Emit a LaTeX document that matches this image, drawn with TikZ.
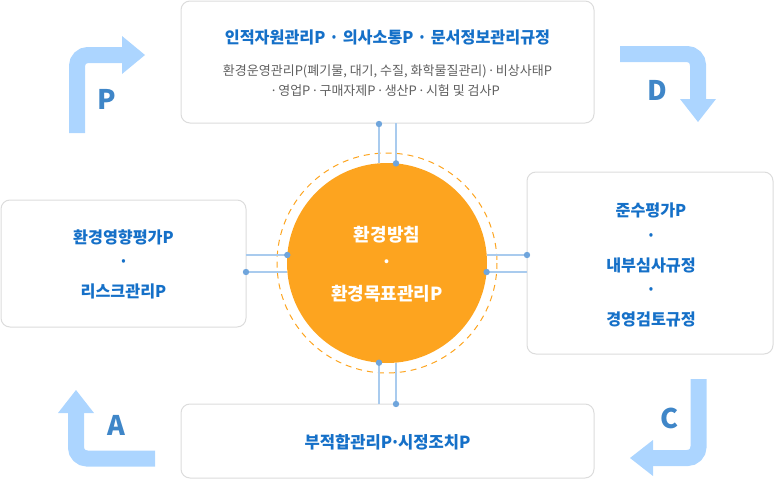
\documentclass[tikz,border=0pt]{standalone}
\usepackage{fontspec}
\setmainfont{Noto Sans CJK KR}
\usetikzlibrary{calc}
\definecolor{bluetxt}{HTML}{1570C8}
\definecolor{graytxt}{HTML}{606060}
\definecolor{boxline}{HTML}{DCDCDC}
\definecolor{conn}{HTML}{A9CBEE}
\definecolor{dotc}{HTML}{6FA5DC}
\definecolor{orangec}{HTML}{FDA41F}
\definecolor{arrowc}{HTML}{ACD5FF}
\definecolor{pdca}{HTML}{3F86C8}
\tikzset{
  panel/.style={draw=boxline, line width=1pt, rounded corners=9pt, fill=white},
  btxt/.style={text=bluetxt, font=\fontsize{16.2}{20}\selectfont\bfseries, inner sep=0pt},
  ttxt/.style={text=bluetxt, font=\fontsize{16.2}{20}\selectfont\bfseries, inner sep=0pt},
  bbtxt/.style={text=bluetxt, font=\fontsize{16.6}{20}\selectfont\bfseries, inner sep=0pt},
  gtxt/.style={text=graytxt, font=\fontsize{13}{16}\selectfont, inner sep=0pt},
  ctxt/.style={text=white, font=\fontsize{18}{22}\selectfont\bfseries, inner sep=0pt},
  lbl/.style={text=pdca, font=\fontsize{27}{30}\selectfont\bfseries, inner sep=0pt},
  cline/.style={draw=conn, line width=1.8pt},
  cdot/.style={fill=dotc, draw=none},
  bigarrow/.style={draw=arrowc, line width=16pt, rounded corners=11pt},
  ahead/.style={fill=arrowc, draw=none},
}
\begin{document}
\begin{tikzpicture}[x=1pt, y=-1pt]
\useasboundingbox (0,0) rectangle (774,479);

% boxes
\draw[panel] (181,1) rectangle (594,123);
\draw[panel] (1,200) rectangle (246,327);
\draw[panel] (527,172) rectangle (773,354);
\draw[panel] (181,404) rectangle (594,478);

% centre circle
\coordinate (c) at (387,263);
\draw[orangec, line width=1pt, dash pattern=on 6pt off 5pt] (c) circle (110);

% connectors
\coordinate (t1) at (379,124); \coordinate (t1c) at ($(c)+(-8,-99.7)$);
\coordinate (t2) at (396,123); \coordinate (t2c) at ($(c)+(9,-99.6)$);
\coordinate (b1c) at ($(c)+(-8,99.7)$); \coordinate (b1) at (379,404);
\coordinate (b2c) at ($(c)+(9,99.6)$); \coordinate (b2) at (396,404);
\coordinate (l1) at (246,255); \coordinate (l1c) at ($(c)+(-99.7,-8)$);
\coordinate (l2) at (246,272); \coordinate (l2c) at ($(c)+(-99.6,9)$);
\coordinate (r1c) at ($(c)+(99.7,-8)$); \coordinate (r1) at (527,255);
\coordinate (r2c) at ($(c)+(99.6,9)$); \coordinate (r2) at (527,272);
\draw[cline] (t1) -- (t1c); \draw[cline] (t2) -- (t2c);
\draw[cline] (b1) -- (b1c); \draw[cline] (b2) -- (b2c);
\draw[cline] (l1) -- (l1c); \draw[cline] (l2) -- (l2c);
\draw[cline] (r1) -- (r1c); \draw[cline] (r2) -- (r2c);

\node[circle, fill=orangec, minimum size=200pt, inner sep=0pt] (circ) at (c) {};
\foreach \p in {t1,t2c,b1c,b2,l1c,l2,r1,r2c} \fill[cdot] (\p) circle (3.2);

% circle text
\node[ctxt] (c1) at (387,235) {환경방침};
\node[ctxt] (c2) at (387,264) {·};
\node[ctxt] (c3) at (387,294) {환경목표관리P};

% top box text
\node[ttxt] (tt) at (387.5,37) {인적자원관리P · 의사소통P · 문서정보관리규정};
\node[gtxt] (ts1) at (387.5,71) {환경운영관리P(폐기물, 대기, 수질, 화학물질관리)\hspace{-2pt} · \hspace{-2pt}비상사태P};
\node[gtxt] (ts2) at (385,91) {·\hspace{-2pt} 영업P\hspace{-2pt} · \hspace{-2pt}구매자제P\hspace{-2pt} · \hspace{-2pt}생산P\hspace{-2pt} · \hspace{-2pt}시험 및 검사P};

% left box text
\node[btxt] (lt1) at (123.5,237) {환경영향평가P};
\node[btxt] (lt2) at (123.5,264) {·};
\node[btxt] (lt3) at (123.5,291) {리스크관리P};

% right box text
\node[btxt] (rt1) at (651,210) {준수평가P};
\node[btxt] (rt2) at (651,238) {·};
\node[btxt] (rt3) at (651,265) {내부심사규정};
\node[btxt] (rt4) at (651,292) {·};
\node[btxt] (rt5) at (651,319) {경영검토규정};

% bottom box text
\node[bbtxt] (bt) at (387.5,442) {부적합관리P\hspace{-6pt} · \hspace{-6pt}시정조치P};

% PDCA arrows
% P
\draw[bigarrow] (77,133) -- (77,55) -- (122.5,55);
\fill[ahead] (122,36) -- (145,55) -- (122,74) -- cycle;
\node[lbl] (P) at (107,99) {P};
% D
\draw[bigarrow] (620,54) -- (698,54) -- (698,99.5);
\fill[ahead] (680,99) -- (698,122) -- (716,99) -- cycle;
\node[lbl] (D) at (657,90) {D};
% A
\draw[bigarrow] (155,458.5) -- (76,458.5) -- (76,412.5);
\fill[ahead] (58,413) -- (76,390) -- (94,413) -- cycle;
\node[lbl] (A) at (116,425) {A};
% C
\draw[bigarrow] (698.5,379) -- (698.5,458) -- (652.5,458);
\fill[ahead] (653,440) -- (630,458) -- (653,476) -- cycle;
\node[lbl] (C) at (669,418) {C};
\end{tikzpicture}
\end{document}
